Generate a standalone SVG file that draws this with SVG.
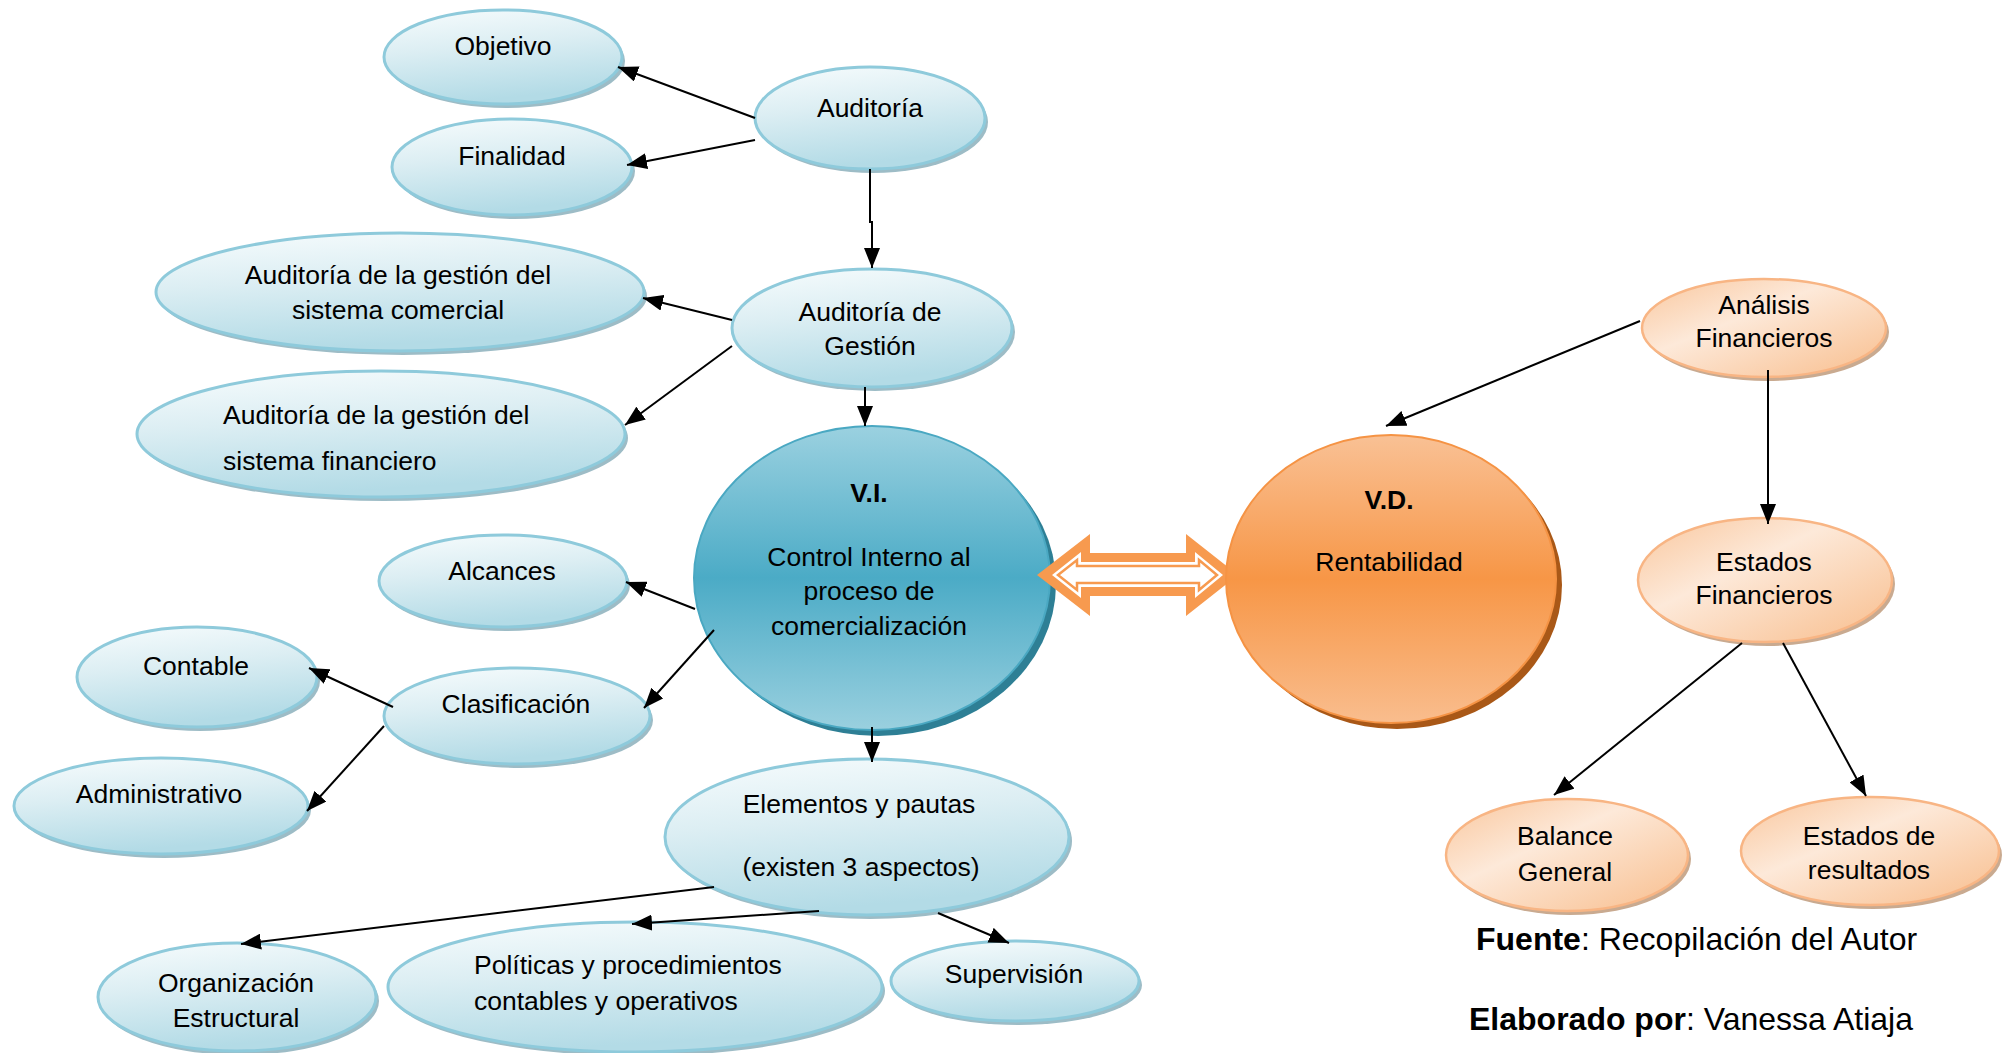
<svg xmlns="http://www.w3.org/2000/svg" width="2007" height="1053" viewBox="0 0 2007 1053">
<style>
text{font-family:"Liberation Sans",Arial,sans-serif;font-size:26.5px;fill:#000}
.c{text-anchor:middle}
.b{font-weight:bold}
.sh{fill:#9dbcc6}
.sho{fill:#c9aa90}
.lb{fill:url(#gBlue);stroke:#8ecadb;stroke-width:3}
.lo{fill:url(#gOr);stroke:#f8b584;stroke-width:2.5}
.cn line,.cn polyline{stroke:#000;stroke-width:2;fill:none;marker-end:url(#ah)}
.foot{font-size:32px}
</style>
<defs>
<linearGradient id="gBlue" x1="0" y1="0" x2="0.25" y2="1">
<stop offset="0" stop-color="#f7fcfd"/>
<stop offset="0.45" stop-color="#dceef3"/>
<stop offset="1" stop-color="#b3dbe6"/>
</linearGradient>
<linearGradient id="gOr" x1="0" y1="0" x2="1" y2="1">
<stop offset="0" stop-color="#f9c69c"/>
<stop offset="0.4" stop-color="#fde9d9"/>
<stop offset="1" stop-color="#f8bd8c"/>
</linearGradient>
<linearGradient id="gVI" x1="0" y1="0" x2="0" y2="1">
<stop offset="0" stop-color="#9bd1e0"/>
<stop offset="0.5" stop-color="#4babc6"/>
<stop offset="1" stop-color="#9ad0df"/>
</linearGradient>
<linearGradient id="gVD" x1="0" y1="0" x2="0" y2="1">
<stop offset="0" stop-color="#f9c195"/>
<stop offset="0.5" stop-color="#f79646"/>
<stop offset="1" stop-color="#f9bd8e"/>
</linearGradient>
<marker id="ah" markerWidth="20" markerHeight="16" refX="20" refY="8" orient="auto" markerUnits="userSpaceOnUse">
<path d="M0,0 L20,8 L0,16 Z" fill="#000"/>
</marker>
</defs>
<rect width="2007" height="1053" fill="#fff"/>

<g id="objetivo">
<ellipse class="sh" cx="506" cy="61" rx="119" ry="47"/>
<ellipse class="lb" cx="503" cy="57" rx="119" ry="47"/>
<text class="c" x="503" y="55">Objetivo</text>
</g>
<g id="auditoria">
<ellipse class="sh" cx="873" cy="122" rx="115" ry="51"/>
<ellipse class="lb" cx="870" cy="118" rx="115" ry="51"/>
<text class="c" x="870" y="117">Auditoría</text>
</g>
<g id="finalidad">
<ellipse class="sh" cx="515" cy="171" rx="120" ry="48"/>
<ellipse class="lb" cx="512" cy="167" rx="120" ry="48"/>
<text class="c" x="512" y="165">Finalidad</text>
</g>
<g id="auditoria-gestion">
<ellipse class="sh" cx="875" cy="332" rx="140" ry="59"/>
<ellipse class="lb" cx="872" cy="328" rx="140" ry="59"/>
<text class="c" x="870" y="321">Auditoría de</text>
<text class="c" x="870" y="355">Gestión</text>
</g>
<g id="ag-comercial">
<ellipse class="sh" cx="403" cy="296" rx="244" ry="59"/>
<ellipse class="lb" cx="400" cy="292" rx="244" ry="59"/>
<text class="c" x="398" y="284">Auditoría de la gestión del</text>
<text class="c" x="398" y="319">sistema comercial</text>
</g>
<g id="ag-financiero">
<ellipse class="sh" cx="384" cy="438" rx="244" ry="63"/>
<ellipse class="lb" cx="381" cy="434" rx="244" ry="63"/>
<text x="223" y="424">Auditoría de la gestión del</text>
<text x="223" y="470">sistema financiero</text>
</g>
<g id="vi">
<ellipse cx="878" cy="584" rx="178" ry="152" fill="#2e7f95"/>
<ellipse cx="872" cy="578" rx="178" ry="152" fill="url(#gVI)" stroke="#4aa8c2" stroke-width="2"/>
<text class="c b" x="869" y="502">V.I.</text>
<text class="c" x="869" y="566">Control Interno al</text>
<text class="c" x="869" y="600">proceso de</text>
<text class="c" x="869" y="635">comercialización</text>
</g>
<g id="double-arrow">
<polygon points="1037,575 1090,534 1090,553 1186,553 1186,534 1238,575 1186,616 1186,596 1090,596 1090,616" fill="#f79a4f"/>
<polygon points="1052,575 1081,552 1081,562 1195,562 1195,552 1223,575 1195,598 1195,587 1081,587 1081,598" fill="#fff"/>
<polygon points="1058,575 1077,560 1077,566 1199,566 1199,560 1217,575 1199,590 1199,583 1077,583 1077,590" fill="#fff" stroke="#f79a4f" stroke-width="2.5"/>
</g>
<g id="vd">
<ellipse cx="1397" cy="585" rx="165" ry="144" fill="#a95817"/>
<ellipse cx="1391" cy="579" rx="165" ry="144" fill="url(#gVD)" stroke="#f59344" stroke-width="2"/>
<text class="c b" x="1389" y="509">V.D.</text>
<text class="c" x="1389" y="571">Rentabilidad</text>
</g>
<g id="alcances">
<ellipse class="sh" cx="506" cy="585" rx="124" ry="46"/>
<ellipse class="lb" cx="503" cy="581" rx="124" ry="46"/>
<text class="c" x="502" y="580">Alcances</text>
</g>
<g id="clasificacion">
<ellipse class="sh" cx="520" cy="720" rx="133" ry="48"/>
<ellipse class="lb" cx="517" cy="716" rx="133" ry="48"/>
<text class="c" x="516" y="713">Clasificación</text>
</g>
<g id="contable">
<ellipse class="sh" cx="200" cy="681" rx="120" ry="50"/>
<ellipse class="lb" cx="197" cy="677" rx="120" ry="50"/>
<text class="c" x="196" y="675">Contable</text>
</g>
<g id="administrativo">
<ellipse class="sh" cx="164" cy="810" rx="147" ry="48"/>
<ellipse class="lb" cx="161" cy="806" rx="147" ry="48"/>
<text class="c" x="159" y="803">Administrativo</text>
</g>
<g id="elementos">
<ellipse class="sh" cx="870" cy="841" rx="202" ry="78"/>
<ellipse class="lb" cx="867" cy="837" rx="202" ry="78"/>
<text class="c" x="859" y="813">Elementos y pautas</text>
<text class="c" x="861" y="876">(existen 3 aspectos)</text>
</g>
<g id="organizacion">
<ellipse class="sh" cx="240" cy="1001" rx="139" ry="54"/>
<ellipse class="lb" cx="237" cy="997" rx="139" ry="54"/>
<text class="c" x="236" y="992">Organización</text>
<text class="c" x="236" y="1027">Estructural</text>
</g>
<g id="politicas">
<ellipse class="sh" cx="638" cy="991" rx="247" ry="65"/>
<ellipse class="lb" cx="635" cy="987" rx="247" ry="65"/>
<text x="474" y="974">Políticas y procedimientos</text>
<text x="474" y="1010">contables y operativos</text>
</g>
<g id="supervision">
<ellipse class="sh" cx="1018" cy="985" rx="124" ry="40"/>
<ellipse class="lb" cx="1015" cy="981" rx="124" ry="40"/>
<text class="c" x="1014" y="983">Supervisión</text>
</g>
<g id="analisis">
<ellipse class="sho" cx="1767" cy="332" rx="122" ry="49"/>
<ellipse class="lo" cx="1764" cy="328" rx="122" ry="49"/>
<text class="c" x="1764" y="314">Análisis</text>
<text class="c" x="1764" y="347">Financieros</text>
</g>
<g id="estados">
<ellipse class="sho" cx="1768" cy="584" rx="127" ry="62"/>
<ellipse class="lo" cx="1765" cy="580" rx="127" ry="62"/>
<text class="c" x="1764" y="571">Estados</text>
<text class="c" x="1764" y="604">Financieros</text>
</g>
<g id="balance">
<ellipse class="sho" cx="1570" cy="859" rx="121" ry="56"/>
<ellipse class="lo" cx="1567" cy="855" rx="121" ry="56"/>
<text class="c" x="1565" y="845">Balance</text>
<text class="c" x="1565" y="881">General</text>
</g>
<g id="resultados">
<ellipse class="sho" cx="1873" cy="855" rx="129" ry="54"/>
<ellipse class="lo" cx="1870" cy="851" rx="129" ry="54"/>
<text class="c" x="1869" y="845">Estados de</text>
<text class="c" x="1869" y="879">resultados</text>
</g>

<g id="connectors" class="cn">
<line x1="755" y1="118" x2="618" y2="67"/>
<line x1="755" y1="140" x2="627" y2="165"/>
<polyline points="870,169 870,222 872,222 872,268"/>
<line x1="732" y1="320" x2="643" y2="298"/>
<line x1="732" y1="346" x2="625" y2="425"/>
<line x1="865" y1="387" x2="865" y2="426"/>
<line x1="695" y1="609" x2="626" y2="582"/>
<line x1="714" y1="630" x2="644" y2="708"/>
<line x1="393" y1="707" x2="309" y2="668"/>
<line x1="384" y1="726" x2="307" y2="811"/>
<line x1="872" y1="727" x2="872" y2="762"/>
<line x1="714" y1="887" x2="241" y2="944"/>
<line x1="819" y1="911" x2="632" y2="924"/>
<line x1="938" y1="913" x2="1009" y2="943"/>
<line x1="1640" y1="321" x2="1386" y2="426"/>
<line x1="1768" y1="370" x2="1768" y2="524"/>
<line x1="1742" y1="643" x2="1554" y2="795"/>
<line x1="1783" y1="643" x2="1866" y2="796"/>
</g>

<g id="footer">
<text class="foot" x="1476" y="950"><tspan class="b">Fuente</tspan>: Recopilación del Autor</text>
<text class="foot" x="1469" y="1030"><tspan class="b">Elaborado por</tspan>: Vanessa Atiaja</text>
</g>
</svg>
